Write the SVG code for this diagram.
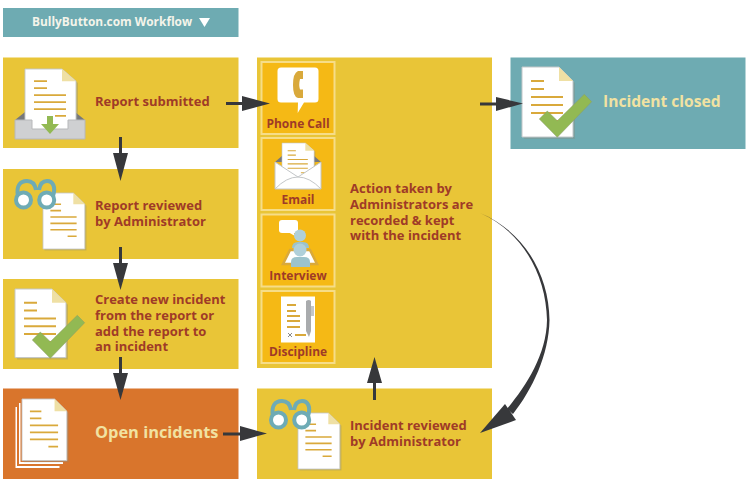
<svg xmlns="http://www.w3.org/2000/svg" width="750" height="495" viewBox="0 0 750 495">
<style>
text{font-family:"Open Sans","DejaVu Sans",sans-serif;font-weight:700}
.t{font-size:13px;fill:#9f3b27}
.s{font-size:12px;fill:#9f3b27;text-anchor:middle}
.l{font-size:16px;fill:#f1e2a2}
.y{fill:#e9c537}
.sub{fill:#f5b915;stroke:#f6dd88;stroke-width:2}
.ln{stroke:#d9a93b;stroke-width:2;fill:none}
.ar{fill:#37383b}
.gl{fill:#fff;stroke:#6eabb5;stroke-width:4}
.ga{fill:none;stroke:#6eabb5;stroke-width:4}
</style>
<defs>
<g id="doc">
<path d="M2,2H39L53,16V72H2Z" fill="#8a8a7a" opacity=".35"/>
<path d="M0,0H37L51,14V70H0Z" fill="#fff" stroke="#c3c6c8" stroke-width="1"/>
<path d="M37,0L51,14H37Z" fill="#efe0a4"/>
<path class="ln" d="M9,14H22M9,22H22M9,30H41M9,38H41M9,46H41M30,54H41"/>
</g>
<g id="check"><path d="M539.3,119L547.3,111L557.3,120.7L584.3,94.3L591.7,101.700L557.3,137.3Z" fill="#92b953" stroke="#8a9a6a" stroke-width=".5"/></g>
<g id="glasses">
<path class="ga" d="M18,196C16,186 20,181 27,181C32,181 35,184 36,190M39,190C40,184 43,181 47,181C53,181 56,187 53,196"/>
<circle class="gl" cx="23.500" cy="200" r="7.500"/>
<circle class="gl" cx="46.700" cy="200" r="7.500"/>
</g>
</defs>
<g id="header">
<rect x="3" y="8" width="235.500" height="29" fill="#6eabb2"/>
<text x="32" y="26" font-size="11.900" fill="#f4f4ea">BullyButton.com Workflow</text>
<path d="M199,18H210L204.500,27Z" fill="#fff"/>
</g>
<g id="report-submitted">
<rect class="y" x="3" y="57.500" width="235.500" height="90.500"/>
<path d="M15,120L25,112V125H75V112L85,120Z" fill="#77787a"/>
<use href="#doc" transform="translate(25,69) scale(1,.87)"/>
<path d="M15,120H32V129H68V120H85V139H15Z" fill="#cfd0d2" stroke="#b7b8ba"/>
<path d="M47,116H53V124H59L50,134L41,124H47Z" fill="#92b953"/>
<text class="t" x="95" y="106">Report submitted</text>
</g>
<g id="report-reviewed">
<rect class="y" x="3" y="169" width="235.500" height="90"/>
<use href="#doc" transform="translate(43,193) scale(.82,.8)"/>
<use href="#glasses"/>
<text class="t" x="95" y="210">Report reviewed</text>
<text class="t" x="95" y="226">by Administrator</text>
</g>
<g id="create-incident">
<rect class="y" x="3" y="279" width="235.500" height="90"/>
<use href="#doc" transform="translate(15,289) scale(1,.98)"/>
<use href="#check" transform="translate(-507,221)"/>
<text class="t" x="95" y="304">Create new incident</text>
<text class="t" x="95" y="320">from the report or</text>
<text class="t" x="95" y="336">add the report to</text>
<text class="t" x="95" y="351">an incident</text>
</g>
<g id="open-incidents">
<rect x="3" y="388.500" width="235.500" height="90.500" fill="#d9752c"/>
<rect x="15.500" y="407" width="44" height="61" fill="#fff"/>
<rect x="17" y="406" width="44" height="60" fill="#d9752c"/>
<rect x="19" y="403" width="44" height="61" fill="#fff"/>
<rect x="20.500" y="402" width="44" height="60" fill="#d9752c"/>
<use href="#doc" transform="translate(22,399) scale(.88)"/>
<text class="l" x="95" y="438" style="font-size:16.400px">Open incidents</text>
</g>
<g id="action-taken">
<rect class="y" x="257" y="57.500" width="235" height="310.500"/>
<text class="t" x="350" y="193">Action taken by</text>
<text class="t" x="350" y="209">Administrators are</text>
<text class="t" x="350" y="225">recorded &amp; kept</text>
<text class="t" x="350" y="240">with the incident</text>
</g>
<g id="phone-call">
<rect class="sub" x="261.500" y="62" width="73" height="72"/>
<path d="M281,67.500H315Q318.500,67.500 318.500,71V99Q318.500,102.500 315,102.500H304L297.700,113L298,102.500H281Q277.500,102.500 277.500,99V71Q277.500,67.500 281,67.500Z" fill="#fff"/>
<path d="M303,71H298Q293,73 293,85Q293,97 298,98H303V89.500H300Q298.500,85 300,79H303Z" fill="#d9a93b"/>
<text class="s" x="298" y="128">Phone Call</text>
</g>
<g id="email">
<rect class="sub" x="261.500" y="138" width="73" height="72"/>
<path d="M275,162L283,155V170H313V155L321,162Z" fill="#77787a"/>
<use href="#doc" transform="translate(282,143) scale(.63,.55)"/>
<path d="M275,162L298,177L321,162V189H275Z" fill="#fff" stroke="#c3c6c8"/>
<path d="M275,189Q298,165 321,189" fill="none" stroke="#c3c6c8"/>
<text class="s" x="298" y="204">Email</text>
</g>
<g id="interview">
<rect class="sub" x="261.500" y="214.500" width="73" height="72"/>
<rect x="279" y="220" width="19" height="13" rx="3" fill="#fff"/>
<path d="M288,232L295,236L293,231Z" fill="#fff"/>
<circle cx="300" cy="235.500" r="6" fill="#b0d0da"/>
<path d="M292,248Q292,242 298,242H303Q309,242 309,248Z" fill="#9cc3cc"/>
<path d="M290,250H310L317,264H283Z" fill="#fff" stroke="#d9a93b" stroke-width="2.500"/>
<circle cx="300" cy="250" r="6.500" fill="#b0d0da"/>
<path d="M291,267V262Q291,257 297,257H304Q310,257 310,262V267Z" fill="#9cc3cc"/>
<text class="s" x="298" y="280">Interview</text>
</g>
<g id="discipline">
<rect class="sub" x="261.500" y="291" width="73" height="72"/>
<rect x="281" y="296.500" width="34" height="46" fill="#fff"/>
<path class="ln" d="M287,305H296M287,311H296M287,316H300M287,321H300M287,327H300M295,335H306"/>
<path d="M288,333L292,337M292,333L288,337" stroke="#8a8a8a" fill="none"/>
<path d="M306,301Q309,299 311,301V331L309,337L306,331Z" fill="#a9abad"/>
<path d="M311,306H314V316H311Z" fill="#c3c6c8"/>
<text class="s" x="298" y="356">Discipline</text>
</g>
<g id="incident-reviewed">
<rect class="y" x="257" y="388.500" width="235" height="90.500"/>
<use href="#doc" transform="translate(298,413) scale(.82,.8)"/>
<use href="#glasses" transform="translate(255,220)"/>
<text class="t" x="350" y="430">Incident reviewed</text>
<text class="t" x="350" y="446">by Administrator</text>
</g>
<g id="incident-closed">
<rect x="510.500" y="57.500" width="235" height="91.500" fill="#6eabb2"/>
<use href="#doc" transform="translate(522,67)"/>
<use href="#check"/>
<text class="l" x="603" y="107" style="font-size:15.600px">Incident closed</text>
</g>
<g id="connectors">
<path class="ar" d="M119,137H122V153H128L120.500,181L113,153H119Z"/>
<path class="ar" d="M119,247H122V263H128L120.500,290L113,263H119Z"/>
<path class="ar" d="M119,357H122V373H128L120.500,400L113,373H119Z"/>
<path class="ar" d="M226,102H242V96L270,103.500L242,111V105H226Z"/>
<path class="ar" d="M480,102.500H496V97L523,103.500L496,111V105.500H480Z"/>
<path class="ar" d="M223,432.500H240V426L267,433.500L240,441V435.500H223Z"/>
<path class="ar" d="M373,400V383H367L374.500,357L382,383H376V400Z"/>
<path class="ar" d="M480,213C525,232 549,275 549.500,320C549,355 532,390 513,414L507,409C526,386 546.500,355 547,320C546,275 523,232 480,213Z"/>
<path class="ar" d="M480,433L505,404L516,420Z"/>
</g>
</svg>
